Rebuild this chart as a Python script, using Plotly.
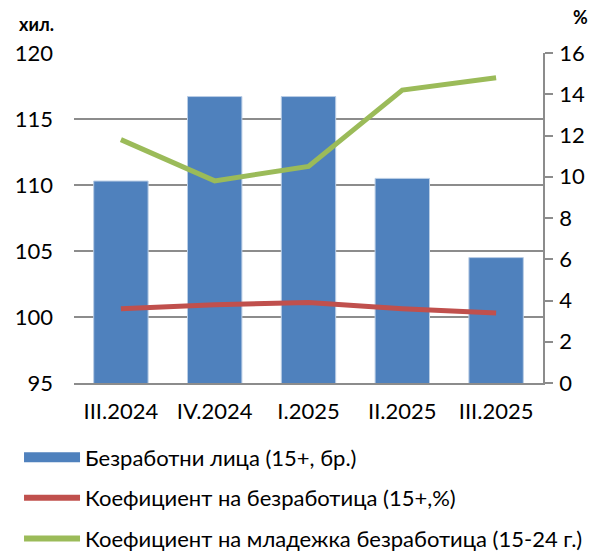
import plotly.graph_objects as go

categories = ["III.2024", "IV.2024", "I.2025", "II.2025", "III.2025"]
unemployed = [110.3, 116.7, 116.7, 110.5, 104.5]
unemp_rate = [3.6, 3.8, 3.9, 3.6, 3.4]
youth_rate = [11.8, 9.8, 10.5, 14.2, 14.8]

names = ["Безработни лица (15+, бр.)",
         "Коефициент на безработица (15+,%)",
         "Коефициент на младежка безработица (15-24 г.)"]

BLUE = "#4F81BD"
RED = "#C0504D"
GREEN = "#9BBB59"
GRID = "#8C8C8C"
FONT = "Lato"
FS = 22

fig = go.Figure()
fig.add_trace(go.Bar(x=categories, y=unemployed, marker_color=BLUE,
                     marker_line=dict(color="#B9CDE5", width=1),
                     showlegend=False, yaxis="y", name=names[0]))
fig.add_trace(go.Scatter(x=categories, y=unemp_rate, mode="lines",
                         line=dict(color=RED, width=5), yaxis="y2",
                         showlegend=False, name=names[1]))
fig.add_trace(go.Scatter(x=categories, y=youth_rate, mode="lines",
                         line=dict(color=GREEN, width=5), yaxis="y2",
                         showlegend=False, name=names[2]))
# legend entries (no visible data)
fig.add_trace(go.Scatter(x=categories[:1], y=[None], mode="lines", name=names[0],
                         line=dict(color=BLUE, width=14), legendgroup="a", yaxis="y2"))
fig.add_trace(go.Scatter(x=categories[:1], y=[None], mode="lines", name=names[1],
                         line=dict(color=RED, width=6), legendgroup="b", yaxis="y2"))
fig.add_trace(go.Scatter(x=categories[:1], y=[None], mode="lines", name=names[2],
                         line=dict(color=GREEN, width=6), legendgroup="c", yaxis="y2"))

fig.update_layout(
    width=596, height=551,
    margin=dict(l=66, r=61, t=45, b=176, autoexpand=False),
    paper_bgcolor="white", plot_bgcolor="white",
    font=dict(family=FONT, size=FS, color="#000000"),
    bargap=0.42,
    xaxis=dict(type="category", categoryorder="array", categoryarray=categories,
               showgrid=False, showline=True, linecolor=GRID, linewidth=1.5,
               ticks="", tickfont=dict(size=FS), ticklabelstandoff=8),
    yaxis=dict(range=[95, 120], dtick=5, showgrid=True, gridcolor=GRID,
               gridwidth=1.5, zeroline=False, showline=False, ticks="",
               ticklabelstandoff=20),
    yaxis2=dict(range=[0, 16], dtick=2, overlaying="y", side="right",
                showgrid=False, zeroline=False, showline=True, linecolor=GRID,
                linewidth=1.5, ticks="outside", ticklen=8, tickcolor=GRID,
                tickwidth=1.5, ticklabelstandoff=2),
    legend=dict(xref="container", yref="container", x=0.0185, y=0.2225,
                xanchor="left", yanchor="top", orientation="v",
                traceorder="grouped", tracegroupgap=9, itemwidth=56,
                font=dict(size=FS), bgcolor="rgba(0,0,0,0)"),
    annotations=[
        dict(text="<b>хил.</b>", xref="paper", yref="paper",
             x=(36 - 74) / 469, y=(383 - 24) / 330, showarrow=False,
             xanchor="center", yanchor="middle", font=dict(size=18)),
        dict(text="<b>%</b>", xref="paper", yref="paper",
             x=(580 - 74) / 469, y=(383 - 17) / 330, showarrow=False,
             xanchor="center", yanchor="middle", font=dict(size=18)),
    ],
)

fig.write_html("out.html")
